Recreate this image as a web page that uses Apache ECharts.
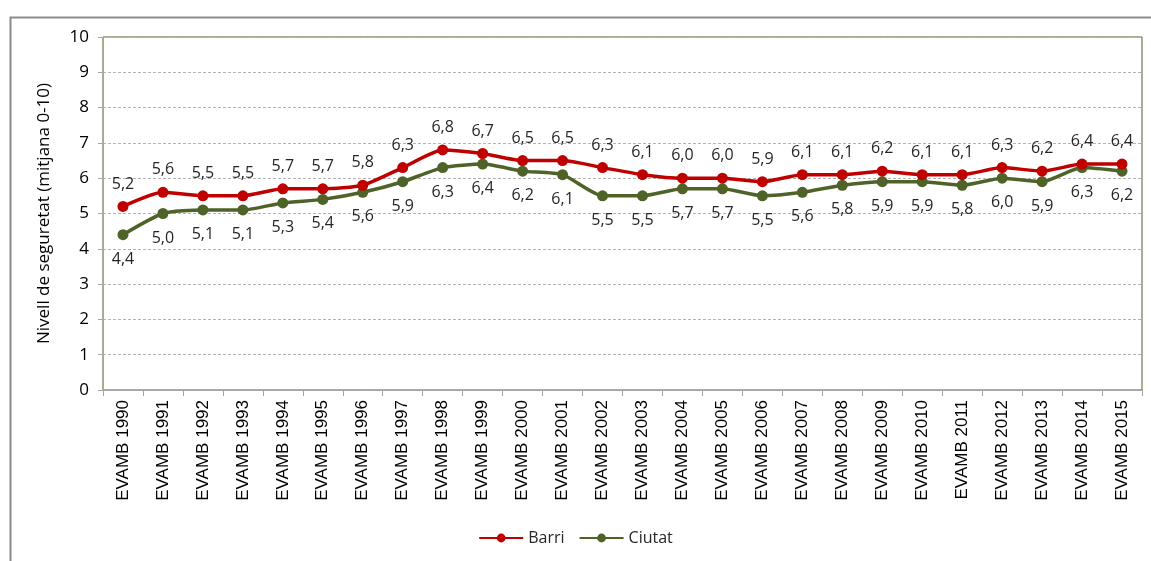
<!DOCTYPE html>
<html>
<head>
<meta charset="utf-8">
<script src="https://cdn.jsdelivr.net/npm/echarts@6/dist/echarts.min.js"></script>
<style>
  html, body { margin: 0; padding: 0; background: #fff; }
  #main { width: 1151px; height: 561px; }
</style>
</head>
<body>
<div id="main"></div>
<script>
var years = ['EVAMB 1990', 'EVAMB 1991', 'EVAMB 1992', 'EVAMB 1993', 'EVAMB 1994', 'EVAMB 1995',
  'EVAMB 1996', 'EVAMB 1997', 'EVAMB 1998', 'EVAMB 1999', 'EVAMB 2000', 'EVAMB 2001', 'EVAMB 2002',
  'EVAMB 2003', 'EVAMB 2004', 'EVAMB 2005', 'EVAMB 2006', 'EVAMB 2007', 'EVAMB 2008', 'EVAMB 2009',
  'EVAMB 2010', 'EVAMB 2011', 'EVAMB 2012', 'EVAMB 2013', 'EVAMB 2014', 'EVAMB 2015'];
var barri = [5.2, 5.6, 5.5, 5.5, 5.7, 5.7, 5.8, 6.3, 6.8, 6.7, 6.5, 6.5, 6.3, 6.1, 6.0, 6.0, 5.9,
  6.1, 6.1, 6.2, 6.1, 6.1, 6.3, 6.2, 6.4, 6.4];
var ciutat = [4.4, 5.0, 5.1, 5.1, 5.3, 5.4, 5.6, 5.9, 6.3, 6.4, 6.2, 6.1, 5.5, 5.5, 5.7, 5.7, 5.5,
  5.6, 5.8, 5.9, 5.9, 5.8, 6.0, 5.9, 6.3, 6.2];

var txt = '#262626';
var labelFmt = function (p) { return p.value.toFixed(1).replace('.', ','); };

var myChart = echarts.init(document.getElementById('main'));

var option = {
  animation: false,
  textStyle: { fontFamily: 'Open Sans' },
  graphic: [{
    type: 'rect',
    left: 8, top: 15,
    shape: { width: 1200, height: 600 },
    style: { fill: 'none', stroke: '#8c8c8c', lineWidth: 2 }
  }],
  grid: {
    left: 103, right: 9, top: 37, bottom: 171,
    show: true, borderColor: '#4F6228', borderWidth: 1, backgroundColor: 'transparent'
  },
  legend: {
    bottom: 10, left: 'center',
    itemWidth: 44, itemHeight: 11, itemGap: 14,
    textStyle: { color: txt, fontSize: 16 },
    data: ['Barri', 'Ciutat']
  },
  xAxis: {
    type: 'category',
    data: years,
    boundaryGap: true,
    axisLine: { lineStyle: { color: '#a6a6a6' } },
    axisTick: { show: true, length: 6, lineStyle: { color: '#a6a6a6' } },
    axisLabel: { rotate: 90, color: '#000', fontSize: 17, margin: 10, fontFamily: 'Liberation Sans' },
    splitLine: { show: false }
  },
  yAxis: {
    type: 'value',
    min: 0, max: 10, interval: 1,
    name: 'Nivell de seguretat (mitjana 0-10)',
    nameLocation: 'middle',
    nameGap: 50,
    nameTextStyle: { color: '#000', fontSize: 17 },
    axisLine: { show: true, lineStyle: { color: '#a6a6a6' } },
    axisTick: { show: true, length: 5, lineStyle: { color: '#a6a6a6' } },
    axisLabel: { color: '#000', fontSize: 17, margin: 14 },
    splitLine: { lineStyle: { color: '#b3b3b3', type: [3, 2] } }
  },
  series: [
    {
      name: 'Barri', type: 'line', data: barri,
      smooth: 0.2,
      symbol: 'circle', symbolSize: 11,
      lineStyle: { color: '#C00000', width: 3.5 },
      itemStyle: { color: '#C00000' },
      label: { show: true, position: 'top', distance: 9, color: txt, fontSize: 16, formatter: labelFmt },
      z: 3
    },
    {
      name: 'Ciutat', type: 'line', data: ciutat,
      smooth: 0.2,
      symbol: 'circle', symbolSize: 11,
      lineStyle: { color: '#4F6228', width: 3.5 },
      itemStyle: { color: '#4F6228' },
      label: { show: true, position: 'bottom', distance: 11, color: txt, fontSize: 16, formatter: labelFmt },
      z: 2
    }
  ]
};

myChart.setOption(option);
</script>
</body>
</html>
